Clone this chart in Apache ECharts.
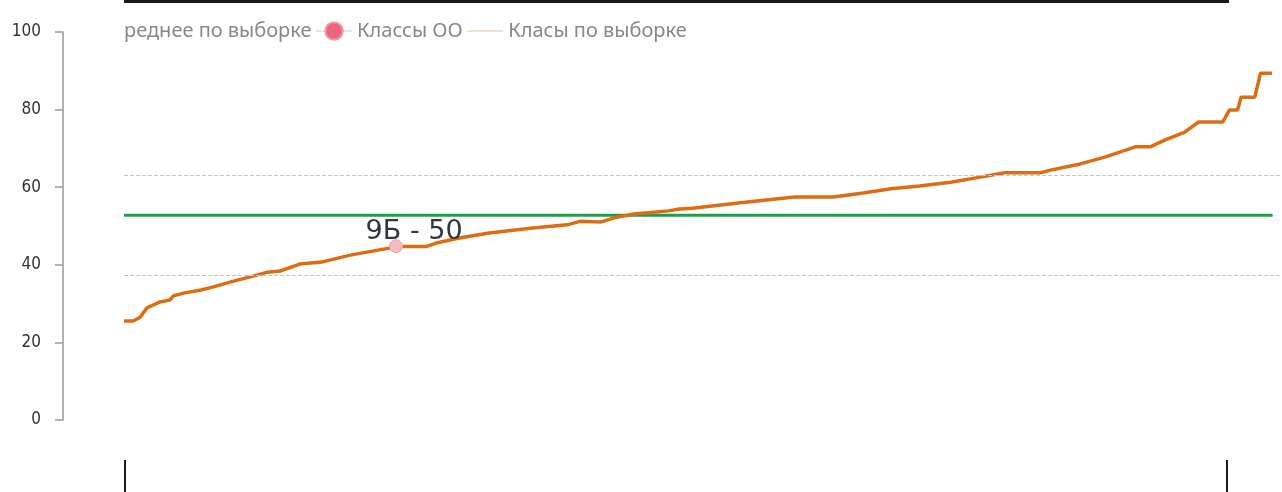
<!DOCTYPE html>
<html>
<head>
<meta charset="utf-8">
<script src="https://cdn.jsdelivr.net/npm/echarts@6/dist/echarts.min.js"></script>
<style>
  html, body { margin: 0; padding: 0; background: #fff; }
  #chart { width: 1282px; height: 492px; }
</style>
</head>
<body>
<div id="chart"></div>
<script>
// позиция класса в выборке (процентиль) и результат
const classRank = [0, 0.8, 1.4, 2.0, 3.1, 4.0, 4.3, 5.2, 6.7, 7.8, 9.3, 11.0, 12.5, 13.6, 15.3, 17.2,
  19.7, 23.1, 23.7, 26.3, 27.2, 29.2, 31.8, 35.6, 38.6, 39.7, 41.5, 42.7, 44.4, 47.4, 48.4, 49.5,
  53.7, 58.4, 61.8, 64.4, 66.8, 69.3, 72.0, 74.6, 76.7, 79.8, 80.7, 83.3, 85.5, 88.1, 89.4, 90.7,
  92.4, 93.6, 95.7, 96.3, 97.0, 97.3, 98.5, 99.0, 100]
const classScore = [25.5, 25.5, 26.5, 28.9, 30.4, 30.9, 32.0, 32.7, 33.5, 34.3, 35.6, 36.9, 38.1, 38.4, 40.2, 40.7,
  42.5, 44.3, 44.7, 44.7, 45.6, 46.9, 48.2, 49.5, 50.3, 51.2, 51.0, 52.1, 53.1, 53.9, 54.4, 54.6,
  56.0, 57.5, 57.5, 58.5, 59.6, 60.3, 61.3, 62.6, 63.7, 63.7, 64.4, 66.0, 67.8, 70.4, 70.4, 72.2,
  74.2, 76.8, 76.8, 79.9, 79.9, 83.2, 83.2, 89.4, 89.4]

// выбранный класс ОО
const ooClass = '9Б'
const ooClassValue = 50
const ooClassPoint = [23.7, 44.8]

// среднее и границы
const avgScore = 52.8
const bandScores = [63.1, 37.3]

const yTicks = { min: 0, max: 100, interval: 20 }

const legendNames = ['Среднее по выборке', 'Классы ОО', 'Класы по выборке']

const chart = echarts.init(document.getElementById('chart'))

chart.setOption({
  animation: false,
  textStyle: { fontFamily: 'Noto Sans' },
  grid: {
    left: 124,
    right: 0,
    top: 32,
    bottom: 72
  },
  legend: {
    left: 77,
    top: 16,
    itemWidth: 36,
    itemHeight: 22,
    itemGap: 4,
    textStyle: { color: '#888', fontSize: 20, fontFamily: 'Noto Sans' },
    // первая подпись в исходнике обрезана слева
    formatter: name => (name === legendNames[0] ? name.slice(1) : name),
    data: [
      { name: legendNames[0], itemStyle: { color: 'transparent' }, lineStyle: { color: 'transparent' } },
      { name: legendNames[1], itemStyle: { color: '#ee6677' }, lineStyle: { color: '#ccc', width: 1 } },
      { name: legendNames[2], itemStyle: { color: 'transparent', borderWidth: 0 }, lineStyle: { color: '#d8c8a0', width: 1 } }
    ]
  },
  xAxis: {
    type: 'value',
    min: 0,
    max: 100.87,
    show: false
  },
  yAxis: {
    type: 'value',
    min: yTicks.min,
    max: yTicks.max,
    interval: yTicks.interval,
    offset: 61,
    splitLine: { show: false },
    axisLine: { show: true, onZero: false, lineStyle: { color: '#999', width: 1.5 } },
    axisTick: { show: true, length: 8, lineStyle: { color: '#999', width: 1.5 } },
    axisLabel: { color: '#333', fontSize: 17, fontFamily: 'DejaVu Sans Condensed', margin: 22 }
  },
  series: [
    {
      name: legendNames[0],
      type: 'line',
      symbol: 'none',
      data: [[0, avgScore], [100.05, avgScore]],
      lineStyle: { color: '#1ba14c', width: 3 },
      itemStyle: { color: '#1ba14c' },
      z: 3,
      markLine: {
        silent: true,
        symbol: 'none',
        label: { show: false },
        lineStyle: { color: '#c4c4c4', type: 'dashed', width: 1 },
        data: bandScores.map(v => ({ yAxis: v }))
      }
    },
    {
      name: legendNames[2],
      type: 'line',
      symbol: 'none',
      data: classRank.map((r, i) => [r, classScore[i]]),
      lineStyle: { color: '#de6d12', width: 3.5 },
      itemStyle: { color: '#de6d12' },
      z: 4
    },
    {
      name: legendNames[1],
      type: 'line',
      data: [ooClassPoint],
      symbol: 'circle',
      symbolSize: 13,
      itemStyle: { color: '#f6bcc6', borderColor: '#eaa0ae', borderWidth: 1 },
      lineStyle: { color: '#ccc', width: 1 },
      z: 5,
      label: {
        show: true,
        position: 'top',
        offset: [18, 11],
        formatter: ooClass + ' - ' + ooClassValue,
        color: '#2f3640',
        fontSize: 27,
        fontFamily: 'DejaVu Sans'
      }
    }
  ],
  graphic: [
    // обрезанная рамка сверху и снизу
    { type: 'rect', left: 124, top: 0, shape: { width: 1105, height: 3 }, style: { fill: '#1a1a1a' }, silent: true },
    { type: 'rect', left: 124, top: 460, shape: { width: 2, height: 32 }, style: { fill: '#1a1a1a' }, silent: true },
    { type: 'rect', left: 1226, top: 460, shape: { width: 2, height: 32 }, style: { fill: '#1a1a1a' }, silent: true }
  ]
})
</script>
</body>
</html>
